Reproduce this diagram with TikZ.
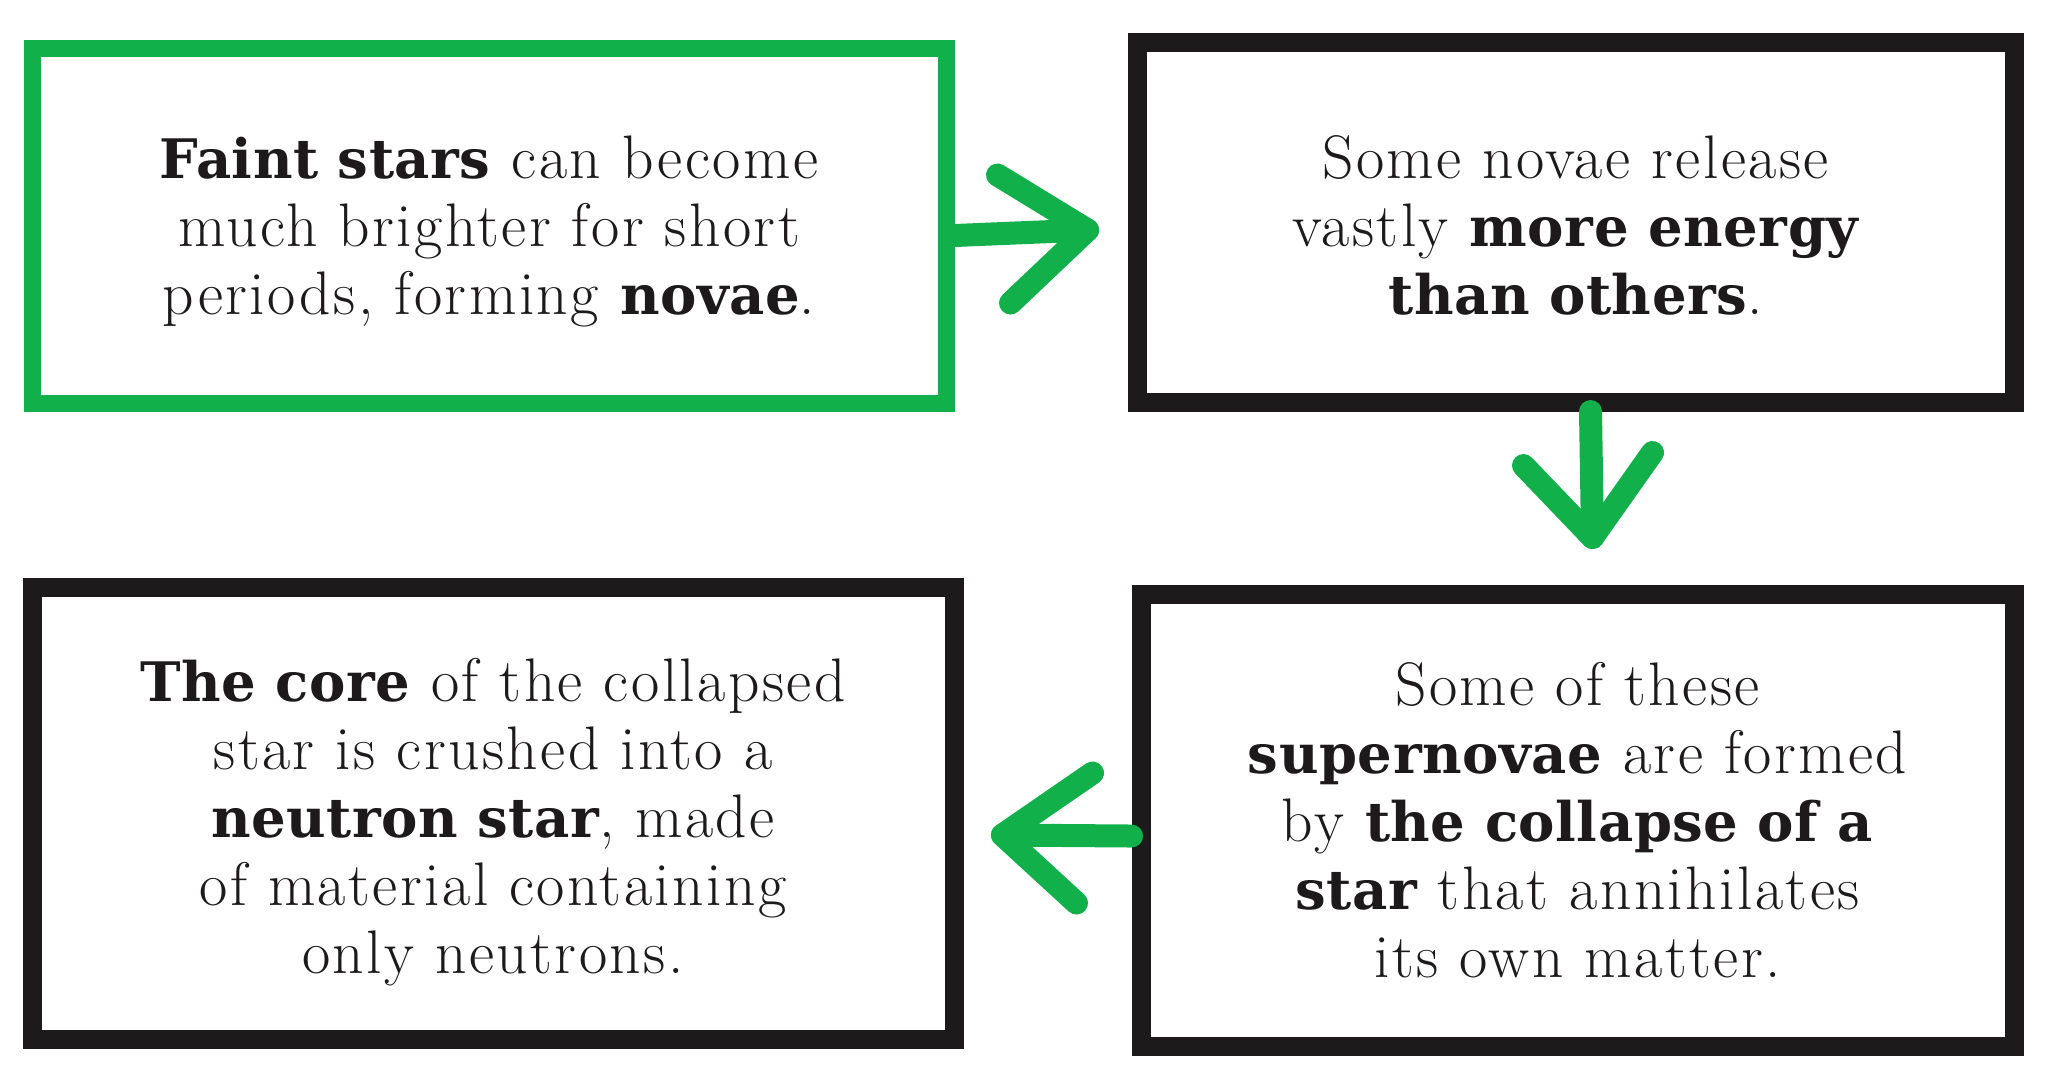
\documentclass[tikz,border=0pt]{standalone}
\usepackage{fontspec}
\setmainfont{Latin Modern Roman}[LetterSpace=4]
\newfontfamily\slabb{DejaVu Serif Bold}[LetterSpace=1]
\usetikzlibrary{calc}
\definecolor{grn}{RGB}{18,176,74}
\definecolor{ink}{RGB}{28,26,26}
\newcommand\bt[1]{{\slabb\fontsize{15.5pt}{19.35pt}\selectfont #1}}
\tikzset{
  box/.style={draw=ink, line width=1.9mm, rectangle, inner sep=0pt},
  gbox/.style={box, draw=grn, line width=1.7mm},
  txt/.style={align=center, inner sep=0pt, text=ink,
    font=\fontsize{17.5pt}{19.35pt}\selectfont},
  arr/.style={draw=grn, line width=2.3mm, line cap=round, line join=round}
}
\begin{document}
\begin{tikzpicture}[x=0.1mm,y=-0.1mm]
\useasboundingbox (0,0) rectangle (2048,1080);
\node[gbox, minimum width=91.4mm, minimum height=35.5mm] (b1) at (489,225.5) {};
\node[box, minimum width=87.7mm, minimum height=36.0mm] (b2) at (1575.5,222) {};
\node[box, minimum width=92.2mm, minimum height=45.2mm] (b3) at (493,813) {};
\node[box, minimum width=87.3mm, minimum height=45.2mm] (b4) at (1577.5,820) {};
\node[txt] (b1t) at ($(b1.center)+(0,6)$)
  {\bt{Faint stars} can become\\much brighter for short\\periods, forming \bt{novae}.};
\node[txt] (b2t) at ($(b2.center)+(0,3)$)
  {Some novae release\\vastly \bt{more energy}\\\bt{than others}.};
\node[txt] (b3t) at ($(b3.center)+(0,9)$)
  {\bt{The core} of the collapsed\\star is crushed into a\\\bt{neutron star}, made\\of material containing\\only neutrons.};
\node[txt] (b4t) at ($(b4.center)+(0,0)$)
  {Some of these\\\bt{supernovae} are formed\\by \bt{the collapse of a}\\\bt{star} that annihilates\\its own matter.};
% arrow 1: b1 -> b2
\coordinate (t1) at ($(b2.west)+(-40,8)$);
\draw[arr] ($(b1.east)+(0,10)$) -- (t1);
\draw[arr] ($(t1)+(-90,-55)$) -- (t1) -- ($(t1)+(-77,73)$);
% arrow 2: b2 -> b4
\coordinate (t2) at ($(b4.north)+(15,-47)$);
\draw[arr] ($(b2.south)+(15,0)$) -- (t2);
\draw[arr] ($(t2)+(-69,-72)$) -- (t2) -- ($(t2)+(60,-85)$);
% arrow 3: b4 -> b3
\coordinate (t3) at ($(b3.east)+(39,22)$);
\draw[arr] ($(b4.west)+(0,16)$) -- (t3);
\draw[arr] ($(t3)+(90,-62)$) -- (t3) -- ($(t3)+(74,68)$);
\end{tikzpicture}
\end{document}
